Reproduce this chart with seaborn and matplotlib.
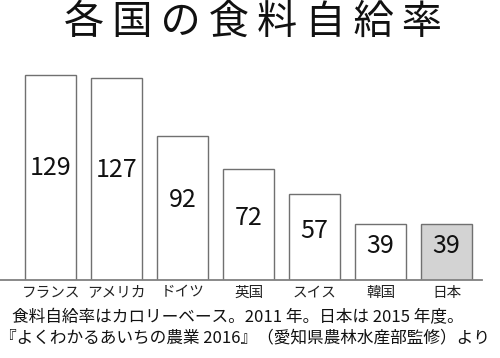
import matplotlib
matplotlib.use("Agg")
import matplotlib.pyplot as plt
import seaborn as sns
import pandas as pd

categories = ["フランス", "アメリカ", "ドイツ", "英国", "スイス", "韓国", "日本"]
values = [129, 127, 92, 72, 57, 39, 39]
fill_colors = ["#ffffff", "#ffffff", "#ffffff", "#ffffff", "#ffffff", "#ffffff", "#d3d3d3"]
title = "各国の食料自給率"
note1 = "食料自給率はカロリーベース。2011 年。日本は 2015 年度。"
note2 = "『よくわかるあいちの農業 2016』（愛知県農林水産部監修）より"

sns.set_theme(style="white")
plt.rcParams["font.family"] = ["Noto Sans CJK JP", "DejaVu Sans"]

W, H = 500, 358
fig = plt.figure(figsize=(W / 100, H / 100), dpi=100)
ax = fig.add_axes([0, 78 / H, 482 / W, 220 / H])

df = pd.DataFrame({"country": categories, "value": values})
sns.barplot(data=df, x="country", y="value", hue="country",
            palette=fill_colors, legend=False, ax=ax,
            width=0.773, edgecolor="#707070", linewidth=1.0, saturation=1)

ymin = 5.27
ax.set_ylim(ymin, 137.96)
ax.set_xlim(-0.770, 6.538)
for i, v in enumerate(values):
    ax.text(i, ymin + v * 0.523, str(v), ha="center", va="center", fontsize=18, color="#111111")

for s in ["top", "left", "right"]:
    ax.spines[s].set_visible(False)
ax.spines["bottom"].set_color("#808080")
ax.spines["bottom"].set_linewidth(1.3)
ax.set_yticks([])
ax.set_xlabel("")
ax.set_ylabel("")
ax.tick_params(axis="x", length=0, pad=4, labelsize=10.5, labelcolor="#222222")

spaced_title = "\u2009".join(title)
fig.text(252.5 / W, 1 - 34 / H, spaced_title, ha="center", va="baseline", fontsize=29, color="#111111")
fig.text(12 / W, 1 - 318 / H, note1, ha="left", va="center", fontsize=12, color="#111111")
fig.text(0 / W, 1 - 338 / H, note2, ha="left", va="center", fontsize=12, color="#111111")

fig.savefig("out.png", dpi=100)
